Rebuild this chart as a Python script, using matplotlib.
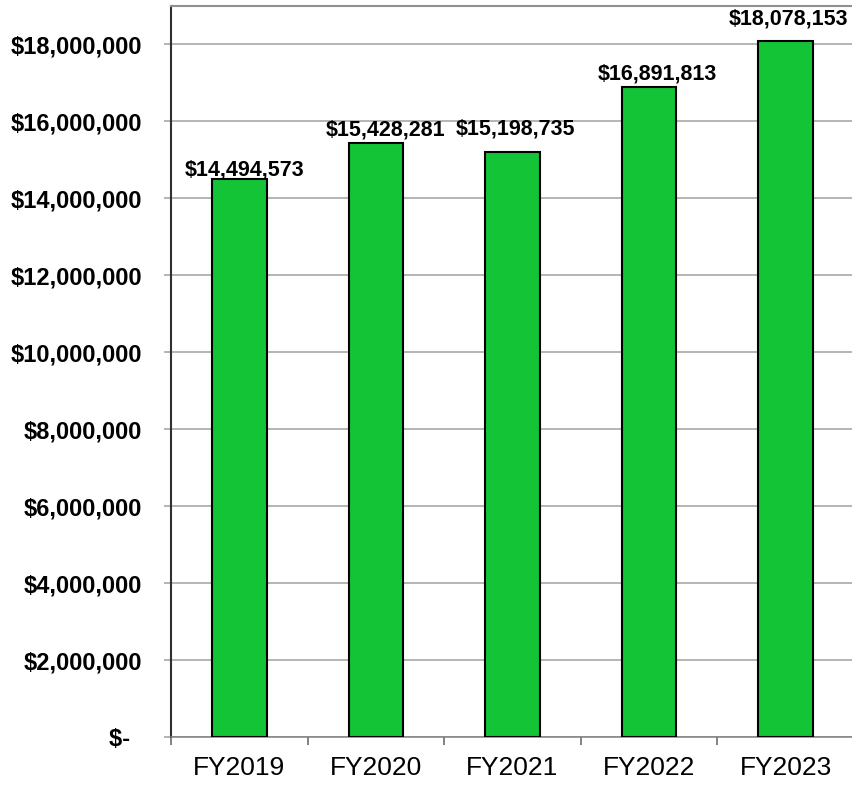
import matplotlib
matplotlib.use("Agg")
import matplotlib.pyplot as plt
from matplotlib.ticker import FuncFormatter, FixedLocator

years = ["FY2019", "FY2020", "FY2021", "FY2022", "FY2023"]
amounts = [14494573, 15428281, 15198735, 16891813, 18078153]
y_ticks = [0, 2000000, 4000000, 6000000, 8000000, 10000000,
           12000000, 14000000, 16000000, 18000000]

# hand-placed nudges for the value labels (pixels: right, up from bar top)
label_nudge = [(5.5, 4), (10, 8), (3, 18), (8, 8), (3, 17)]

plt.rcParams['font.family'] = ['Liberation Sans', 'DejaVu Sans']

fig = plt.figure(figsize=(8.52, 7.85), dpi=100)
ax = fig.add_axes([171 / 852, 48 / 785, 683 / 852, 731 / 785])

x = list(range(len(years)))
ax.bar(x, amounts, width=0.4, color="#12C436", edgecolor="black",
       linewidth=1.5, zorder=3)

for xi, v, (dx, dy) in zip(x, amounts, label_nudge):
    ax.annotate(f"${v:,.0f}", (xi, v), xytext=(dx, dy),
                textcoords="offset pixels", ha="center", va="baseline",
                fontsize=15.5, fontweight="bold", zorder=4)

ax.set_xlim(-0.5, len(years) - 0.5)
ax.set_ylim(0, 19000000)


def money(v, pos):
    if v == 0:
        return "$-\u2002"
    return f"${v:,.0f}"


ax.yaxis.set_major_locator(FixedLocator(y_ticks))
ax.yaxis.set_major_formatter(FuncFormatter(money))
ax.grid(axis="y", color="#a0a0a0", linewidth=1.1, zorder=0)

ax.set_xticks(x)
ax.set_xticklabels(years)
ax.set_xticks([i - 0.5 for i in range(len(years) + 1)], minor=True)
ax.tick_params(axis="x", which="major", length=0, labelsize=19, pad=14)
ax.tick_params(axis="x", which="minor", length=6, width=1.1,
               color="#606060", direction="out")
ax.tick_params(axis="y", length=5, width=1.1, color="#a0a0a0",
               labelsize=17, pad=16)
for lbl in ax.get_yticklabels():
    lbl.set_fontweight("bold")

ax.spines["left"].set_color("#303030")
ax.spines["left"].set_linewidth(1.5)
ax.spines["bottom"].set_color("#808080")
ax.spines["bottom"].set_linewidth(1.1)
ax.spines["top"].set_color("#909090")
ax.spines["top"].set_linewidth(1.5)
ax.spines["right"].set_visible(False)

fig.savefig("out.png", dpi=100)
